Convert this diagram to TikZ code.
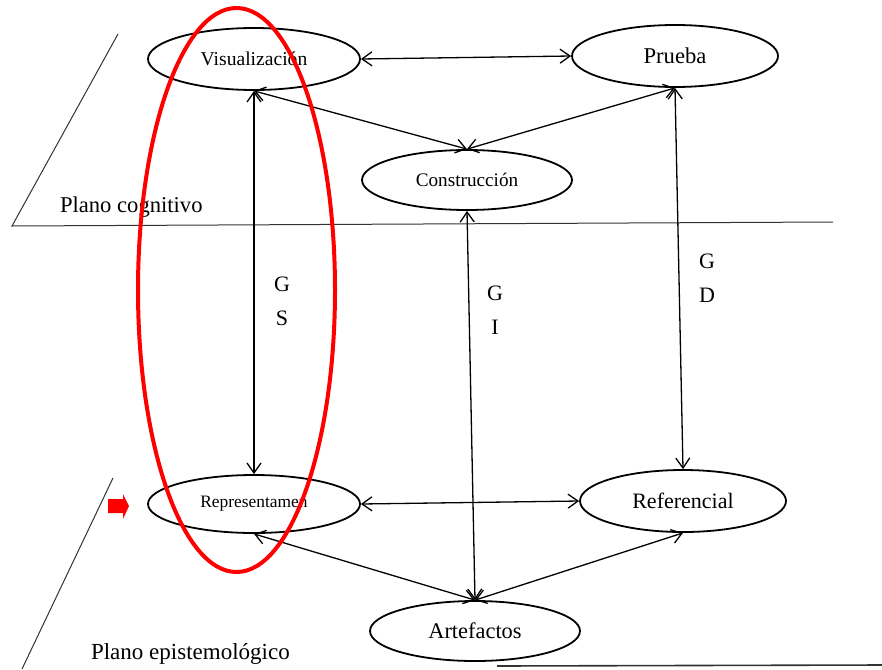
\documentclass[tikz,border=0pt]{standalone}
\usepackage{fontspec}
\setmainfont{Liberation Serif}
\usepackage{tikz}
\usetikzlibrary{arrows.meta,shapes.geometric}

\tikzset{
  etapa/.style={ellipse,draw,line width=0.9pt,inner sep=0pt},
  flecha/.style={{Straight Barb[length=5pt,width=7pt]}-{Straight Barb[length=5pt,width=7pt]},line width=0.65pt},
  plano/.style={line width=0.5pt,black!80}
}

\begin{document}
\begin{tikzpicture}[x=0.5pt,y=-0.5pt]
\useasboundingbox (0,0) rectangle (882,669);

% planos
\draw[plano] (118,34) -- (12,226) -- (833,222);
\draw[plano] (113,478) -- (22,669);
\draw[plano,line width=0.8pt] (497,666) -- (882,665);
\node[right,font=\fontsize{11.3}{13}\selectfont] (pcog) at (53,207) {Plano cognitivo};
\node[right,font=\fontsize{11.5}{13}\selectfont] (pepi) at (84,654) {Plano epistemológico};

% nodos
\node[etapa,minimum width=106pt,minimum height=31pt,font=\fontsize{9.8}{12}\selectfont] (vis) at (254,59) {Visualización};
\node[etapa,minimum width=103pt,minimum height=31pt,font=\fontsize{11.3}{13}\selectfont] (prueba) at (675,56) {Prueba};
\node[etapa,minimum width=105pt,minimum height=30pt,font=\fontsize{9.6}{12}\selectfont] (constr) at (467,180) {Construcción};
\node[etapa,minimum width=106pt,minimum height=29pt,font=\fontsize{8.7}{11}\selectfont] (rep) at (254,504) {Representamen};
\node[etapa,minimum width=103pt,minimum height=31pt,font=\fontsize{11}{13}\selectfont] (ref) at (683,501) {Referencial};
\node[etapa,minimum width=105pt,minimum height=30pt,font=\fontsize{11.2}{13}\selectfont] (art) at (475,631) {Artefactos};

% conexiones
\draw[flecha] (vis.east) -- (prueba.west);
\draw[flecha] (vis.south) -- (constr.north);
\draw[flecha] (prueba.south) -- (constr.north);
\draw[flecha] (vis.south) -- (rep.north);
\draw[flecha] (constr.south) -- (art.north);
\draw[flecha] (prueba.south) -- (ref.north);
\draw[flecha] (rep.east) -- (ref.west);
\draw[flecha] (rep.south) -- (art.north);
\draw[flecha] (art.north) -- (ref.south);

% etiquetas
\node[align=center,font=\fontsize{11}{17}\selectfont] (gs) at (282,301) {G\\S};
\node[align=center,font=\fontsize{11}{17}\selectfont] (gi) at (495,310) {G\\I};
\node[align=center,font=\fontsize{11}{17}\selectfont] (gd) at (707,278) {G\\D};

% marca roja
\draw[red,line width=2pt] (236.5,290) ellipse [x radius=49.25pt,y radius=141pt];
\fill[red] (108,499) -- (123,499) -- (123,494) -- (129,506) -- (123,519) -- (123,513) -- (108,513) -- cycle;
\end{tikzpicture}
\end{document}
